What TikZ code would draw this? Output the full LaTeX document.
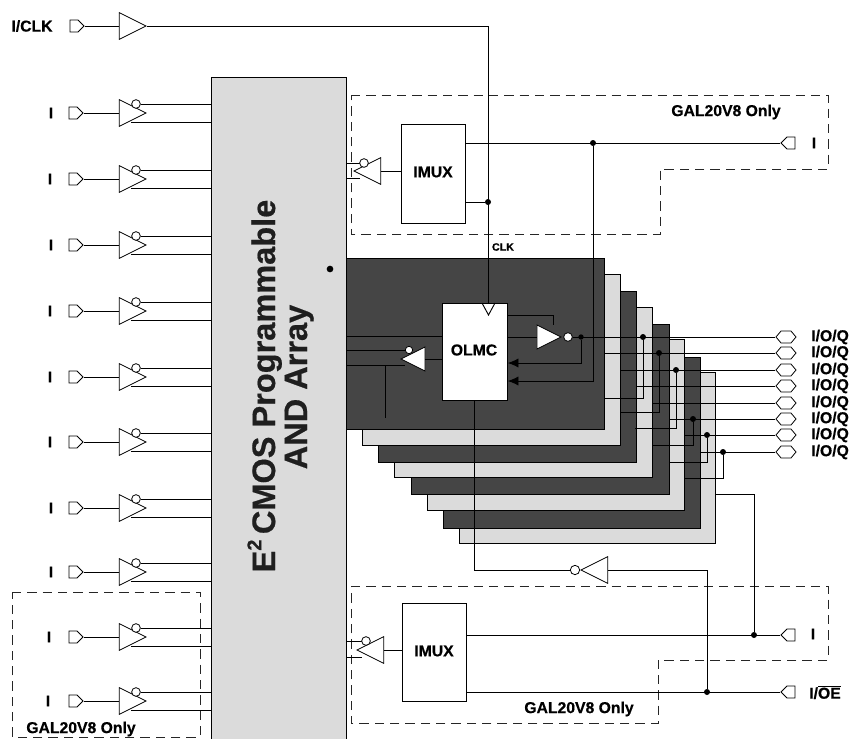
\documentclass[tikz,border=0pt]{standalone}
\usepackage{fontspec}
\setmainfont{Liberation Sans}[BoldFeatures={FakeBold=0.5}]
\usetikzlibrary{shapes.geometric,shapes.symbols,arrows.meta,calc}
\definecolor{darkplate}{gray}{0.27}
\definecolor{lightplate}{gray}{0.86}
\definecolor{arraygray}{gray}{0.86}
\tikzset{
  wire/.style={draw=black,line width=0.7pt},
  dashbox/.style={draw=black!85,line width=0.55pt,dash pattern=on 7pt off 4.5pt},
  buf/.style={isosceles triangle,isosceles triangle stretches,draw=black,fill=white,line width=0.6pt,inner sep=0pt,minimum width=20pt,minimum height=20pt,anchor=apex},
  bufl/.style={buf,shape border rotate=180},
  smallbuf/.style={isosceles triangle,isosceles triangle stretches,draw=black,fill=white,line width=0.6pt,inner sep=0pt,minimum width=18pt,minimum height=18pt,anchor=apex},
  bubble/.style={circle,draw=black,fill=white,line width=0.6pt,inner sep=0pt,minimum size=6.5pt},
  pinr/.style={signal,signal to=east,signal pointer angle=90,draw=black,fill=white,line width=0.6pt,inner sep=0pt,minimum width=10.5pt,minimum height=9pt},
  pinl/.style={pinr,signal to=west},
  pinio/.style={signal,signal to=east and west,signal pointer angle=100,draw=black,fill=white,line width=0.6pt,inner sep=0pt,minimum width=15pt,minimum height=9pt},
  blockbox/.style={draw=black,fill=white,line width=0.6pt,inner sep=0pt},
  lab/.style={font=\fontsize{11.8}{13}\selectfont\bfseries,inner sep=0pt},
  small/.style={font=\fontsize{8}{9}\selectfont\bfseries,inner sep=0pt},
  big/.style={font=\fontsize{24.4}{26}\selectfont\bfseries,inner sep=0pt,rotate=90,anchor=base,text=black!88},
  dot/.style={circle,fill=black,inner sep=0pt,minimum size=4.5pt},
  plate/.style={draw=black,line width=0.6pt}
}
\begin{document}
\begin{tikzpicture}[x=0.75pt,y=-0.75pt]
\useasboundingbox (0,0) rectangle (850,739);
% stacked OLMC plates, back to front
\foreach \l/\t/\r/\b/\c in {459/372/715/543/lightplate,443/357/700/528/darkplate,427/339/684/510/lightplate,411/324/669/494/darkplate,394/307/652/477/lightplate,378/291/636/462/darkplate,362/274/620/445/lightplate,346/258/604/429/darkplate}
  \draw[plate,fill=\c] (\l,\t) rectangle (\r,\b);
% array
\node[draw=black,fill=arraygray,line width=0.7pt,inner sep=0pt,minimum width=101.25pt,minimum height=497pt,anchor=north west] (arr) at (211,77) {};
\node[big] (arrtxtA) at (275,386) {E\raisebox{0.42em}{\fontsize{15}{16}\selectfont 2}\,CMOS Programmable};
\node[big] (arrtxtB) at (307,387) {AND Array};
\node[circle,fill=black,inner sep=0pt,minimum size=5pt] (speck) at (330,269) {};
% dashed regions
\draw[dashbox] (351,95) -- (828,95) -- (828,169) -- (660,169) -- (660,234) -- (351,234) -- cycle;
\draw[dashbox] (351,586) -- (828,586) -- (828,660) -- (658,660) -- (658,723) -- (351,723) -- cycle;
\draw[dashbox] (12,592) -- (200,592) -- (200,737) -- (12,737) -- cycle;
\node[lab] (gtop) at (726,112) {GAL20V8 Only};
\node[lab] (gbot) at (579,709) {GAL20V8 Only};
\node[lab] (gleft) at (81,729) {GAL20V8 Only};
% I/CLK
\node[lab] (lclk) at (32,26) {I/CLK};
\node[pinr] (pclk) at (74,26) {};
\node[buf] (bclk) at (147,26) {};
\coordinate (clkin) at (488,303);
\draw[wire] (pclk.east) -- (bclk.lower side);
% left inputs
\foreach \n/\y/\lx in {1/113/51,2/179/50,3/245/51,4/311/50,5/377/50,6/442/50,7/508/51,8/572/51,9/637/49,10/701/48}{
  \node[lab] (li\n) at (\lx,\y) {I};
  \node[pinr] (pi\n) at (73,\y) {};
  \node[buf] (bi\n) at (147,\y) {};
  \node[bubble] (ci\n) at (136,\y-9) {};
  \coordinate (lo\n) at (131,\y+9);
  \draw[wire] (pi\n.east) -- (bi\n.lower side);
  \draw[wire] (ci\n) -- (ci\n -| arr.west);
  \draw[wire] (lo\n) -- (lo\n -| arr.west);
}
% top IMUX
\node[blockbox,minimum width=48pt,minimum height=74pt,anchor=north west] (imt) at (401,124) {};
\node[lab] (imtt) at (433,172) {IMUX};
\coordinate (t1) at (346,163); \coordinate (t2) at (346,178);
\coordinate (tb1) at (364,163); \coordinate (tb2) at (360,178);
\coordinate (imtin) at (401,171);
\node[bufl] (bt) at (353,171) {};
\draw[wire] (t1) -- (tb1); \draw[wire] (t2) -- (tb2);
\node[bubble] (tc) at (tb1) {};
\draw[wire] (bt.lower side) -- (imtin);
\node[pinl] (pt) at (791,143) {};
\node[lab] (lt) at (814,143) {I};
\coordinate (imto) at (465,143);
\coordinate (imtc) at (465,202);
\node[dot] (jt) at (593,143) {};
\node[dot] (jclk) at (488,202) {};
\draw[wire] (imto) -- (pt.west);
\draw[wire] (imtc) -- (jclk);
\draw[wire] (bclk.apex) -| (clkin);
\node[small] (lclkb) at (503,247) {CLK};
% OLMC
\node[blockbox,minimum width=48.75pt,minimum height=72.75pt,anchor=north west] (olmc) at (442,303) {};
\node[lab] (olmct) at (474,350) {OLMC};
\coordinate (ck1) at (482,303); \coordinate (ck2) at (488.5,315); \coordinate (ck3) at (495,303);
\draw[wire] (ck1) -- (ck2) -- (ck3);
% OLMC left inverter
\coordinate (la) at (346,336); \coordinate (lb) at (442,336);
\coordinate (lc) at (346,350); \coordinate (ld) at (346,365);
\coordinate (lde) at (405,365);
\draw[wire] (la) -- (lb);
\node[smallbuf,shape border rotate=180] (bol) at (400,359) {};
\node[bubble,minimum size=5.5pt] (col) at (409,350) {};
\draw[wire] (lc) -- (col);
\draw[wire] (ld) -- (lde);
\draw[wire] (bol.lower side) -- (bol.lower side -| olmc.west);
\coordinate (lv1) at (385,365); \coordinate (lv2) at (385,418);
\draw[wire] (lv1) -- (lv2);
% OLMC right inverter
\node[smallbuf] (bor) at (562,337) {};
\node[bubble] (cor) at (568,337) {};
\draw[wire] (bor.lower side -| olmc.east) -- (bor.lower side);
\coordinate (ra) at (507,315); \coordinate (rb) at (553,315); \coordinate (rc) at (553,325);
\draw[wire] (ra) -- (rb) -- (rc);
% I/O/Q pins
\foreach \n/\y in {1/337,2/353,3/370,4/386,5/403,6/419,7/435,8/452}{
  \node[pinio] (io\n) at (786,\y) {};
  \node[lab,anchor=west] (lio\n) at (811,\y) {I/O/Q};
}
\node[dot,minimum size=4pt] (jfb) at (581,337) {};
\draw[wire] (cor) -- (io1.west);
\draw[wire,-{Latex[length=8pt,width=7pt]}] (jfb) |- (jfb |- 0,363) -- (olmc.east |- 0,363);
\draw[wire,-{Latex[length=8pt,width=7pt]}] (jt) -- (jt |- 0,381) -- (olmc.east |- 0,381);
% wires out of the plates
\foreach \n/\xs in {2/605,3/620,4/636,5/652,6/669,7/684,8/700}{
  \coordinate (ws\n) at (\xs,0);
  \draw[wire] (ws\n |- io\n) -- (io\n.west);
}
\foreach \n/\jx/\yb/\xe in {1/643/398/605,2/659/412/620,3/676/428/635,6/693/445/652,7/707/462/669,8/723/478/684}{
  \node[dot] (jo\n) at (\jx,0 |- io\n) {};
  \coordinate (je\n) at (\xe,\yb);
  \draw[wire] (jo\n) |- (je\n);
}
% bottom IMUX
\node[blockbox,minimum width=48pt,minimum height=73.5pt,anchor=north west] (imb) at (402,603) {};
\node[lab] (imbt) at (434,651) {IMUX};
\coordinate (b1) at (346,641); \coordinate (b2) at (346,657);
\coordinate (bb1) at (366,641); \coordinate (bb2) at (362,657);
\coordinate (imbin) at (402,650);
\node[bufl] (bb) at (356,650) {};
\draw[wire] (b1) -- (bb1); \draw[wire] (b2) -- (bb2);
\node[bubble] (bc) at (bb1) {};
\draw[wire] (bb.lower side) -- (imbin);
\node[pinl] (pb) at (791,635) {};
\node[lab] (lb1) at (813,634) {I};
\node[pinl] (poe) at (791,692) {};
\node[lab] (loe) at (825,692) {I/$\overline{\mbox{OE}}$};
\coordinate (imbo) at (466,635); \coordinate (imbc) at (466,692);
\node[dot] (jb) at (754,635) {};
\node[dot] (joe) at (707,692) {};
\draw[wire] (imbo) -- (pb.west);
\draw[wire] (imbc) -- (poe.west);
\coordinate (ptop) at (715,494);
\draw[wire] (jb) |- (ptop);
% output enable inverter
\node[buf,shape border rotate=180] (boe) at (580,570) {};
\node[bubble,minimum size=7pt] (coe) at (575,570) {};
\draw[wire] (olmc.south) |- (coe);
\draw[wire] (boe.lower side) -| (joe);
\end{tikzpicture}
\end{document}
